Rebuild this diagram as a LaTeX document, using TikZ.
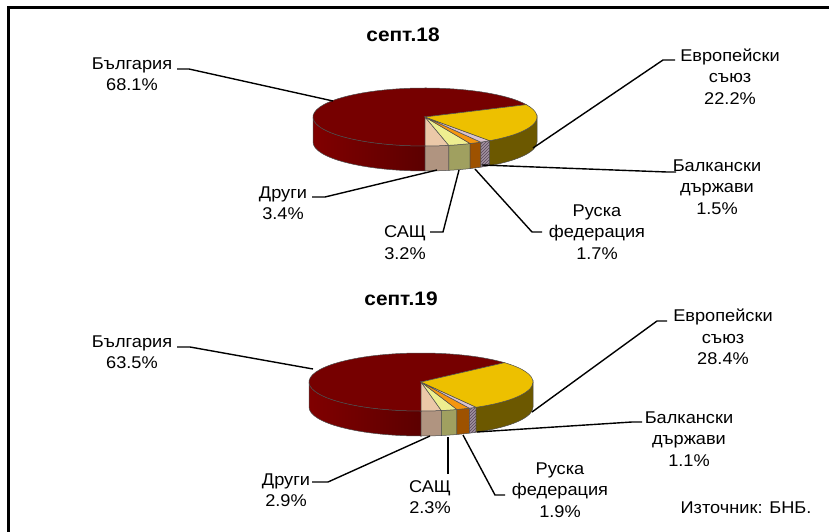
\documentclass[tikz,border=0pt]{standalone}
\usepackage{fontspec}
\setmainfont{Liberation Sans}[FakeStretch=1.07]
\usepackage{tikz}
\usetikzlibrary{patterns}
\definecolor{bgTop}{RGB}{118,0,0}
\definecolor{bgSideL}{RGB}{128,0,0}
\definecolor{bgSideR}{RGB}{92,0,0}
\definecolor{euTop}{RGB}{237,192,0}
\definecolor{euSide}{RGB}{108,88,0}
\definecolor{balkTop}{RGB}{216,194,208}
\definecolor{balkSide}{RGB}{160,146,160}
\definecolor{balkLine}{RGB}{90,70,90}
\definecolor{ruTop}{RGB}{245,150,15}
\definecolor{ruSide}{RGB}{158,82,0}
\definecolor{usaTop}{RGB}{238,238,144}
\definecolor{usaSide}{RGB}{160,160,96}
\definecolor{othTop}{RGB}{235,200,168}
\definecolor{othSide}{RGB}{176,148,128}

\begin{document}
\begin{tikzpicture}[x=1pt,y=-1pt]

          \tikzstyle{labelNode} = [align=center, inner sep=0pt, font=\fontsize{17}{21.5}\selectfont];
          \tikzstyle{titleNode} = [inner sep=0pt, font=\bfseries\fontsize{19.5}{22}\selectfont];
          \tikzstyle{leaderEdge} = [line width=1.4pt, black];
          \tikzstyle{rimEdge} = [draw=black!70, line width=0.5pt];

          \useasboundingbox (0,0) rectangle (829,532);
          \draw[line width=3pt] (8,8) rectangle (860,560);

          % septembre 2018
          \begin{scope}[shift={(425,117)}, x radius=112, y radius=29]
            \shadedraw[rimEdge, left color=bgSideL, right color=bgSideR] (180:112 and 29) arc[start angle=180, end angle=90] -- ++(0,25) arc[start angle=90, end angle=180] -- cycle;
            \filldraw[rimEdge, fill=othSide] (90:112 and 29) arc[start angle=90, end angle=77.76] -- ++(0,25) arc[start angle=77.76, end angle=90] -- cycle;
            \filldraw[rimEdge, fill=usaSide] (77.76:112 and 29) arc[start angle=77.76, end angle=66.24] -- ++(0,25) arc[start angle=66.24, end angle=77.76] -- cycle;
            \filldraw[rimEdge, fill=ruSide] (66.24:112 and 29) arc[start angle=66.24, end angle=60.12] -- ++(0,25) arc[start angle=60.12, end angle=66.24] -- cycle;
            \filldraw[rimEdge, fill=balkSide] (60.12:112 and 29) arc[start angle=60.12, end angle=54.72] -- ++(0,25) arc[start angle=54.72, end angle=60.12] -- cycle;
            \fill[pattern=north east lines, pattern color=balkLine] (60.12:112 and 29) arc[start angle=60.12, end angle=54.72] -- ++(0,25) arc[start angle=54.72, end angle=60.12] -- cycle;
            \filldraw[rimEdge, fill=euSide] (54.72:112 and 29) arc[start angle=54.72, end angle=0] -- ++(0,25) arc[start angle=0, end angle=54.72] -- cycle;

            \filldraw[rimEdge, fill=bgTop] (0,0) -- (-25.2:112 and 29) arc[start angle=-25.2, end angle=-270] -- cycle;
            \filldraw[rimEdge, fill=othTop] (0,0) -- (90:112 and 29) arc[start angle=90, end angle=77.76] -- cycle;
            \filldraw[rimEdge, fill=usaTop] (0,0) -- (77.76:112 and 29) arc[start angle=77.76, end angle=66.24] -- cycle;
            \filldraw[rimEdge, fill=ruTop] (0,0) -- (66.24:112 and 29) arc[start angle=66.24, end angle=60.12] -- cycle;
            \filldraw[rimEdge, fill=balkTop] (0,0) -- (60.12:112 and 29) arc[start angle=60.12, end angle=54.72] -- cycle;
            \filldraw[rimEdge, fill=euTop] (0,0) -- (54.72:112 and 29) arc[start angle=54.72, end angle=-25.2] -- cycle;
          \end{scope}

          \node[titleNode] (titleA) at (403,35) {септ.18};
          \node[labelNode] (bgA) at (132,74) {България\\68.1\%};
          \node[labelNode] (euA) at (730,76.5) {Европейски\\съюз\\22.2\%};
          \node[labelNode] (balkA) at (717,187) {Балкански\\държави\\1.5\%};
          \node[labelNode] (ruA) at (597,232) {Руска\\федерация\\1.7\%};
          \node[labelNode] (usaA) at (405,242.5) {САЩ\\3.2\%};
          \node[labelNode] (othA) at (283,203) {Други\\3.4\%};

          \coordinate (bgAl) at (177,69);   \coordinate (bgAp) at (333,101);
          \coordinate (euAl) at (675,60);   \coordinate (euAp) at (533,148);
          \coordinate (balkAl) at (676,172); \coordinate (balkAp) at (482,165);
          \coordinate (ruAl) at (542,232);  \coordinate (ruAp) at (475,169);
          \coordinate (usaAl) at (430,232); \coordinate (usaAp) at (459,170);
          \coordinate (othAl) at (312,197); \coordinate (othAp) at (437,170);

          \draw[leaderEdge] (bgAl) -- ++(12,0) -- (bgAp);
          \draw[leaderEdge] (euAl) -- ++(-12,0) -- (euAp);
          \draw[leaderEdge] (balkAl) -- ++(-9,0) -- (balkAp);
          \draw[leaderEdge] (ruAl) -- ++(-10,0) -- (ruAp);
          \draw[leaderEdge] (usaAl) -- ++(13,0) -- (usaAp);
          \draw[leaderEdge] (othAl) -- ++(13,0) -- (othAp);

          % septembre 2019
          \begin{scope}[shift={(421,382)}, x radius=112, y radius=29]
            \shadedraw[rimEdge, left color=bgSideL, right color=bgSideR] (180:112 and 29) arc[start angle=180, end angle=90] -- ++(0,25) arc[start angle=90, end angle=180] -- cycle;
            \filldraw[rimEdge, fill=othSide] (90:112 and 29) arc[start angle=90, end angle=79.56] -- ++(0,25) arc[start angle=79.56, end angle=90] -- cycle;
            \filldraw[rimEdge, fill=usaSide] (79.56:112 and 29) arc[start angle=79.56, end angle=71.28] -- ++(0,25) arc[start angle=71.28, end angle=79.56] -- cycle;
            \filldraw[rimEdge, fill=ruSide] (71.28:112 and 29) arc[start angle=71.28, end angle=64.44] -- ++(0,25) arc[start angle=64.44, end angle=71.28] -- cycle;
            \filldraw[rimEdge, fill=balkSide] (64.44:112 and 29) arc[start angle=64.44, end angle=60.48] -- ++(0,25) arc[start angle=60.48, end angle=64.44] -- cycle;
            \fill[pattern=north east lines, pattern color=balkLine] (64.44:112 and 29) arc[start angle=64.44, end angle=60.48] -- ++(0,25) arc[start angle=60.48, end angle=64.44] -- cycle;
            \filldraw[rimEdge, fill=euSide] (60.48:112 and 29) arc[start angle=60.48, end angle=0] -- ++(0,25) arc[start angle=0, end angle=60.48] -- cycle;

            \filldraw[rimEdge, fill=bgTop] (0,0) -- (-41.76:112 and 29) arc[start angle=-41.76, end angle=-270] -- cycle;
            \filldraw[rimEdge, fill=othTop] (0,0) -- (90:112 and 29) arc[start angle=90, end angle=79.56] -- cycle;
            \filldraw[rimEdge, fill=usaTop] (0,0) -- (79.56:112 and 29) arc[start angle=79.56, end angle=71.28] -- cycle;
            \filldraw[rimEdge, fill=ruTop] (0,0) -- (71.28:112 and 29) arc[start angle=71.28, end angle=64.44] -- cycle;
            \filldraw[rimEdge, fill=balkTop] (0,0) -- (64.44:112 and 29) arc[start angle=64.44, end angle=60.48] -- cycle;
            \filldraw[rimEdge, fill=euTop] (0,0) -- (60.48:112 and 29) arc[start angle=60.48, end angle=-41.76] -- cycle;
          \end{scope}

          \node[titleNode] (titleB) at (401,299) {септ.19};
          \node[labelNode] (bgB) at (132,352) {България\\63.5\%};
          \node[labelNode] (euB) at (723,337) {Европейски\\съюз\\28.4\%};
          \node[labelNode] (balkB) at (689,439) {Балкански\\държави\\1.1\%};
          \node[labelNode] (ruB) at (560,490) {Руска\\федерация\\1.9\%};
          \node[labelNode] (usaB) at (430,497) {САЩ\\2.3\%};
          \node[labelNode] (othB) at (286,490) {Други\\2.9\%};
          \node[labelNode] (source) at (746,508) {Източник: БНБ.};

          \coordinate (bgBl) at (177,347);  \coordinate (bgBp) at (313,369);
          \coordinate (euBl) at (667,321);  \coordinate (euBp) at (532,412);
          \coordinate (balkBl) at (642,422); \coordinate (balkBp) at (477,432);
          \coordinate (ruBl) at (505,495);  \coordinate (ruBp) at (463,435);
          \coordinate (usaBl) at (448,474); \coordinate (usaBp) at (448,437);
          \coordinate (othBl) at (312,482); \coordinate (othBp) at (430,436);

          \draw[leaderEdge] (bgBl) -- ++(13,0) -- (bgBp);
          \draw[leaderEdge] (euBl) -- ++(-10,0) -- (euBp);
          \draw[leaderEdge] (balkBl) -- ++(-10,0) -- (balkBp);
          \draw[leaderEdge] (ruBl) -- ++(-10,0) -- (ruBp);
          \draw[leaderEdge] (usaBl) -- (usaBp);
          \draw[leaderEdge] (othBl) -- ++(16,0) -- (othBp);
        \end{tikzpicture}
\end{document}
